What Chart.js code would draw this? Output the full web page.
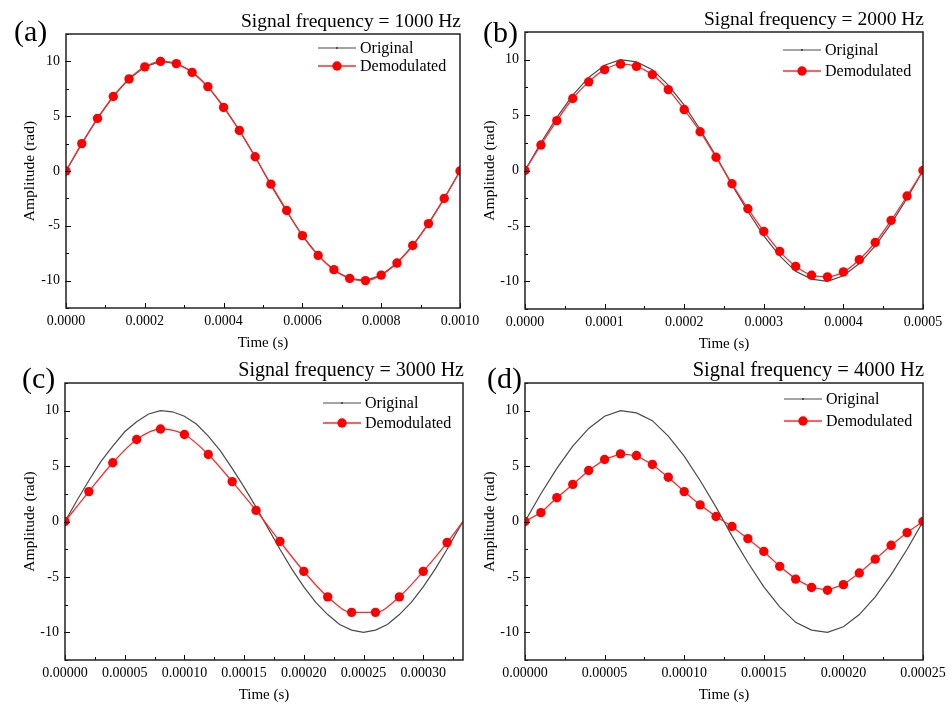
<!DOCTYPE html>
<html>
<head>
<meta charset="utf-8">
<script src="https://cdn.jsdelivr.net/npm/chart.js@4.4.1/dist/chart.umd.min.js"></script>
<style>
html, body { margin: 0; padding: 0; background: #fff; }
body { position: relative; width: 952px; height: 704px; overflow: hidden; }
canvas { position: absolute; }
</style>
</head>
<body>
<script>
// sample times are in microseconds, amplitudes in rad
var timeA = [0, 40, 80, 120, 160, 200, 240, 280, 320, 360, 400, 440, 480, 520, 560, 600, 640, 680, 720, 760, 800, 840, 880, 920, 960, 1000];
var originalA = [0, 2.5, 4.8, 6.8, 8.4, 9.5, 10, 9.8, 9.1, 7.7, 5.9, 3.7, 1.3, -1.3, -3.7, -5.9, -7.7, -9.1, -9.8, -10, -9.5, -8.4, -6.8, -4.8, -2.5, 0];
var demodA = [0, 2.5, 4.8, 6.8, 8.4, 9.5, 10, 9.8, 9.0, 7.7, 5.8, 3.7, 1.3, -1.2, -3.6, -5.9, -7.7, -9.0, -9.8, -10, -9.5, -8.4, -6.8, -4.8, -2.5, 0];

var timeB = [0, 20, 40, 60, 80, 100, 120, 140, 160, 180, 200, 220, 240, 260, 280, 300, 320, 340, 360, 380, 400, 420, 440, 460, 480, 500];
var originalB = [0, 2.5, 4.8, 6.8, 8.4, 9.5, 10, 9.8, 9.1, 7.7, 5.9, 3.7, 1.3, -1.3, -3.7, -5.9, -7.7, -9.1, -9.8, -10, -9.5, -8.4, -6.8, -4.8, -2.5, 0];
var demodB = [0, 2.3, 4.5, 6.5, 8.0, 9.1, 9.6, 9.4, 8.65, 7.3, 5.5, 3.5, 1.2, -1.2, -3.45, -5.5, -7.3, -8.65, -9.45, -9.6, -9.15, -8.05, -6.5, -4.5, -2.3, 0];

var timeOrigC = [0, 10, 20, 30, 40, 50, 60, 70, 80, 90, 100, 110, 120, 130, 140, 150, 160, 170, 180, 190, 200, 210, 220, 230, 240, 250, 260, 270, 280, 290, 300, 310, 320, 330, 333.3];
var originalC = [0, 1.9, 3.7, 5.4, 6.8, 8.1, 9.0, 9.7, 10, 9.9, 9.5, 8.8, 7.7, 6.4, 4.8, 3.1, 1.3, -0.6, -2.5, -4.3, -5.9, -7.3, -8.4, -9.3, -9.8, -10, -9.8, -9.3, -8.4, -7.3, -5.9, -4.3, -2.5, -0.6, 0];
var timeDemodC = [0, 20, 40, 60, 80, 100, 120, 140, 160, 180, 200, 220, 240, 260, 280, 300, 320, 333.3];
var demodC = [0, 2.7, 5.3, 7.4, 8.35, 7.85, 6.05, 3.6, 1.0, -1.8, -4.5, -6.8, -8.2, -8.2, -6.8, -4.5, -1.9, 0];

var timeD = [0, 10, 20, 30, 40, 50, 60, 70, 80, 90, 100, 110, 120, 130, 140, 150, 160, 170, 180, 190, 200, 210, 220, 230, 240, 250];
var originalD = [0, 2.5, 4.8, 6.8, 8.4, 9.5, 10, 9.8, 9.1, 7.7, 5.9, 3.7, 1.3, -1.3, -3.7, -5.9, -7.7, -9.1, -9.8, -10, -9.5, -8.4, -6.8, -4.8, -2.5, 0];
var demodD = [0, 0.8, 2.15, 3.35, 4.6, 5.6, 6.1, 5.95, 5.15, 4.0, 2.7, 1.5, 0.45, -0.45, -1.55, -2.7, -4.05, -5.2, -5.95, -6.2, -5.7, -4.65, -3.4, -2.15, -1.0, 0];

var yTicks = [-10, -5, 0, 5, 10];
var yTickLabels = ['-10', '-5', '0', '5', '10'];
var xTicksA = [0, 200, 400, 600, 800, 1000];
var xLabelsA = ['0.0000', '0.0002', '0.0004', '0.0006', '0.0008', '0.0010'];
var xTicksB = [0, 100, 200, 300, 400, 500];
var xLabelsB = ['0.0000', '0.0001', '0.0002', '0.0003', '0.0004', '0.0005'];
var xTicksC = [0, 50, 100, 150, 200, 250, 300];
var xLabelsC = ['0.00000', '0.00005', '0.00010', '0.00015', '0.00020', '0.00025', '0.00030'];
var xTicksD = [0, 50, 100, 150, 200, 250];
var xLabelsD = ['0.00000', '0.00005', '0.00010', '0.00015', '0.00020', '0.00025'];
var seriesNames = ['Original', 'Demodulated'];
var frequencies = ['1000', '2000', '3000', '4000'];
var panelTags = ['(a)', '(b)', '(c)', '(d)'];

var SERIF = '"Liberation Serif", "Times New Roman", serif';

// layout of each panel (page pixels)
var panels = [
    { tag: panelTags[0], freq: frequencies[0], tOrig: timeA, orig: originalA, tDemod: timeA, demod: demodA,
      xMax: 1000, xTicks: xTicksA, xLabels: xLabelsA, smooth: true,
      left: 0, top: 0, w: 488, h: 352, padTop: 34, yWidth: 66,
      titleSize: 19.5, tagX: 14, tagY: 41, legX: 318, legY: 48, legGap: 18 },
    { tag: panelTags[1], freq: frequencies[1], tOrig: timeB, orig: originalB, tDemod: timeB, demod: demodB,
      xMax: 500, xTicks: xTicksB, xLabels: xLabelsB, smooth: true,
      left: 460, top: 0, w: 491, h: 353, padTop: 32, yWidth: 65,
      titleSize: 19.5, tagX: 483, tagY: 42, legX: 783, legY: 50, legGap: 21 },
    { tag: panelTags[2], freq: frequencies[2], tOrig: timeOrigC, orig: originalC, tDemod: timeDemodC, demod: demodC,
      xMax: 333.3, xTicks: xTicksC, xLabels: xLabelsC, smooth: true, hideLast: true,
      left: 0, top: 352, w: 491, h: 352, padTop: 31, yWidth: 65,
      titleSize: 20, tagX: 22, tagY: 388, legX: 323, legY: 403, legGap: 20 },
    { tag: panelTags[3], freq: frequencies[3], tOrig: timeD, orig: originalD, tDemod: timeD, demod: demodD,
      xMax: 250, xTicks: xTicksD, xLabels: xLabelsD, smooth: false,
      left: 460, top: 352, w: 491, h: 352, padTop: 31, yWidth: 65,
      titleSize: 20.5, tagX: 487, tagY: 388, legX: 784, legY: 399, legGap: 22 }
];

function toPoints(ts, vs) {
    return ts.map(function (t, i) { return { x: t, y: vs[i] }; });
}

function minorValues(major, min, max) {
    var half = (major[1] - major[0]) / 2, out = [];
    for (var v = major[0] - half; v <= max + 1e-9; v += 2 * half) {
        if (v >= min - 1e-9) out.push(v);
    }
    return out;
}

function makeDecor(p) {
    return {
        id: 'decor',
        afterDraw: function (chart) {
            var ctx = chart.ctx, a = chart.chartArea, xs = chart.scales.x, ys = chart.scales.y;
            var xMajor = xs.ticks.map(function (t) { return t.value; });
            var yMajor = ys.ticks.map(function (t) { return t.value; });
            ctx.save();

            // inward tick marks
            ctx.strokeStyle = '#000';
            ctx.lineWidth = 1;
            ctx.beginPath();
            xMajor.forEach(function (v) {
                var px = Math.round(xs.getPixelForValue(v)) + 0.5;
                ctx.moveTo(px, a.bottom); ctx.lineTo(px, a.bottom - 5);
            });
            minorValues(xMajor, xs.min, xs.max).forEach(function (v) {
                var px = Math.round(xs.getPixelForValue(v)) + 0.5;
                ctx.moveTo(px, a.bottom); ctx.lineTo(px, a.bottom - 3);
            });
            yMajor.forEach(function (v) {
                var py = Math.round(ys.getPixelForValue(v)) + 0.5;
                ctx.moveTo(a.left - 1, py); ctx.lineTo(a.left + 5, py);
            });
            minorValues(yMajor, ys.min, ys.max).forEach(function (v) {
                var py = Math.round(ys.getPixelForValue(v)) + 0.5;
                ctx.moveTo(a.left, py); ctx.lineTo(a.left + 3, py);
            });
            ctx.stroke();

            // frame
            ctx.strokeStyle = '#222';
            ctx.lineWidth = 1.5;
            ctx.strokeRect(a.left, a.top, a.right - a.left, a.bottom - a.top);

            // title and panel tag
            ctx.fillStyle = '#000';
            ctx.textBaseline = 'alphabetic';
            ctx.textAlign = 'right';
            ctx.font = p.titleSize + 'px ' + SERIF;
            ctx.fillText('Signal frequency = ' + p.freq + ' Hz', a.right + 1, a.top - 7);
            ctx.textAlign = 'left';
            ctx.font = '30px ' + SERIF;
            ctx.fillText(p.tag, p.tagX - p.left, p.tagY - p.top);

            // legend
            var lx = p.legX - p.left, ly = p.legY - p.top;
            ctx.font = '16px ' + SERIF;
            ctx.textBaseline = 'middle';
            chart.data.datasets.forEach(function (ds, i) {
                var yy = ly + i * p.legGap;
                ctx.strokeStyle = ds.borderColor;
                ctx.lineWidth = ds.borderWidth;
                ctx.beginPath();
                ctx.moveTo(lx, yy); ctx.lineTo(lx + 38, yy);
                ctx.stroke();
                ctx.fillStyle = ds.pointBackgroundColor;
                ctx.beginPath();
                ctx.arc(lx + 19, yy, i === 0 ? 1 : 4.7, 0, Math.PI * 2);
                ctx.fill();
                ctx.fillStyle = '#000';
                ctx.fillText(ds.label, lx + 42, yy + 1);
            });
            ctx.restore();
        }
    };
}

panels.forEach(function (p) {
    var cv = document.createElement('canvas');
    cv.width = p.w;
    cv.height = p.h;
    cv.style.left = p.left + 'px';
    cv.style.top = p.top + 'px';
    document.body.appendChild(cv);

    var lastIdx = p.demod.length - 1;

    new Chart(cv, {
        type: 'line',
        data: {
            datasets: [{
                label: seriesNames[0],
                data: toPoints(p.tOrig, p.orig),
                borderColor: '#4a4a4a',
                pointBackgroundColor: '#333',
                borderWidth: 1.2,
                pointRadius: 0,
                tension: 0,
                order: 1
            }, {
                label: seriesNames[1],
                data: toPoints(p.tDemod, p.demod),
                borderColor: '#ff2a2a',
                pointBackgroundColor: '#ff0000',
                backgroundColor: '#ff0000',
                borderWidth: 1.3,
                pointRadius: function (c) { return (p.hideLast && c.dataIndex === lastIdx) ? 0 : 4.7; },
                pointBorderWidth: 0,
                cubicInterpolationMode: p.smooth ? 'monotone' : 'default',
                order: 0
            }]
        },
        options: {
            responsive: false,
            animation: false,
            events: [],
            layout: { padding: { left: 0, top: p.padTop, right: 28, bottom: 0 } },
            plugins: { legend: { display: false }, tooltip: { enabled: false } },
            scales: {
                x: {
                    type: 'linear',
                    min: 0,
                    max: p.xMax,
                    afterBuildTicks: function (s) { s.ticks = p.xTicks.map(function (v) { return { value: v }; }); },
                    afterFit: function (s) { s.height = 44; },
                    grid: { display: false, drawTicks: false },
                    border: { display: false },
                    ticks: {
                        autoSkip: false,
                        maxRotation: 0,
                        padding: 5,
                        color: '#000',
                        font: { family: SERIF, size: 14 },
                        callback: function (v, i) { return p.xLabels[i]; }
                    },
                    title: {
                        display: true,
                        text: 'Time (s)',
                        color: '#000',
                        font: { family: SERIF, size: 15 },
                        padding: { top: 0, bottom: 0 }
                    }
                },
                y: {
                    min: -12.5,
                    max: 12.5,
                    afterBuildTicks: function (s) { s.ticks = yTicks.map(function (v) { return { value: v }; }); },
                    afterFit: function (s) { s.width = p.yWidth; },
                    grid: { display: false, drawTicks: false },
                    border: { display: false },
                    ticks: {
                        padding: 6,
                        color: '#000',
                        font: { family: SERIF, size: 14 },
                        callback: function (v, i) { return yTickLabels[i]; }
                    },
                    title: {
                        display: true,
                        text: 'Amplitude (rad)',
                        color: '#000',
                        font: { family: SERIF, size: 15.5 },
                        padding: { top: 21, bottom: 0 }
                    }
                }
            }
        },
        plugins: [makeDecor(p)]
    });
});
</script>
</body>
</html>
